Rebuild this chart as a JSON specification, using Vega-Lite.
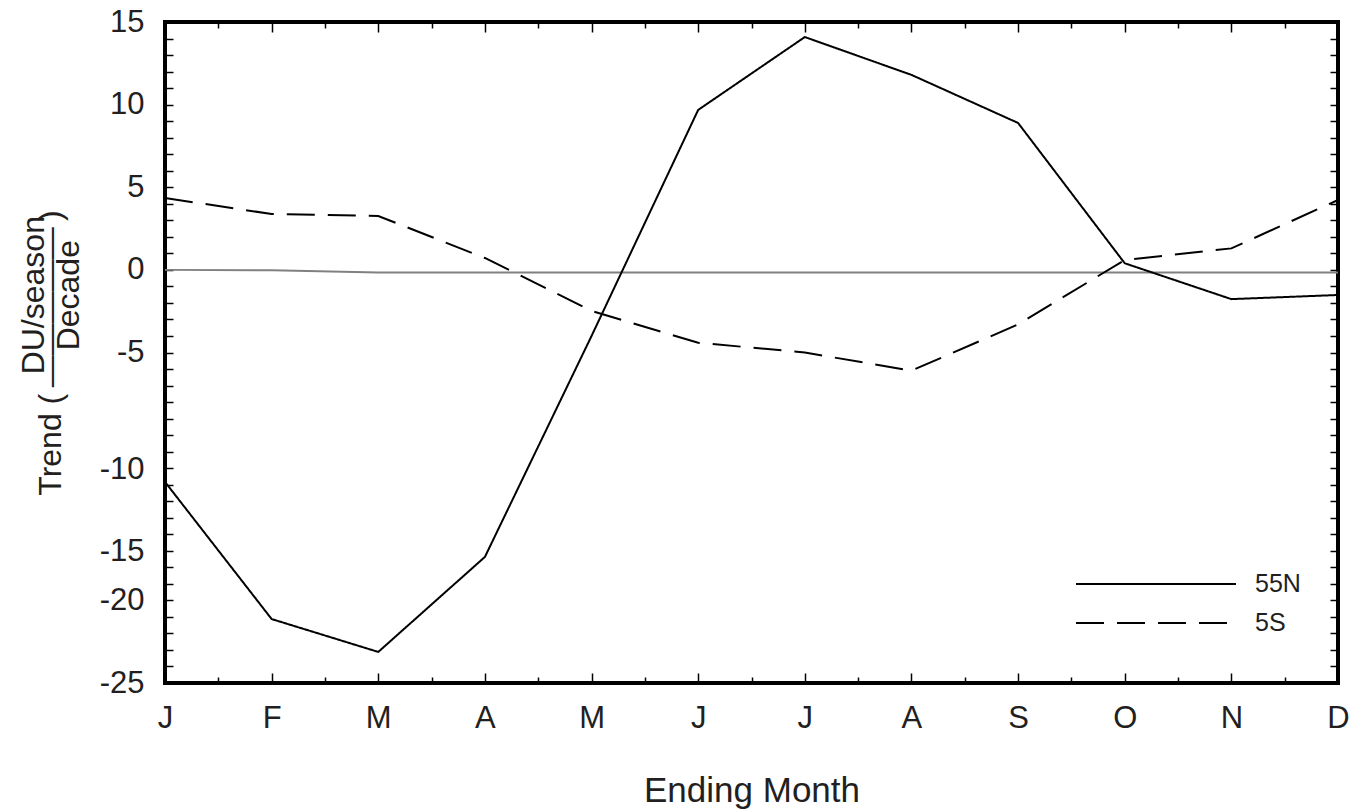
{
  "$schema": "https://vega.github.io/schema/vega-lite/v6.json",
  "width": 1173,
  "height": 661,
  "autosize": "none",
  "padding": {"left": 165, "top": 22, "right": 13, "bottom": 129},
  "background": "white",
  "config": {
    "view": {"stroke": "black", "strokeWidth": 4},
    "font": "Liberation Sans",
    "axis": {
      "domain": false,
      "tickColor": "black",
      "tickWidth": 1.5,
      "labelColor": "#231f20",
      "titleColor": "#231f20",
      "labelFont": "Liberation Sans",
      "titleFont": "Liberation Sans",
      "titleFontWeight": "normal",
      "grid": false
    },
    "legend": {
      "orient": "none",
      "legendX": 970,
      "legendY": 541,
      "symbolType": "M-4,0H4",
      "symbolSize": 1600,
      "symbolStrokeWidth": 2,
      "symbolStrokeColor": "black",
      "symbolFillColor": "transparent",
      "labelFontSize": 25,
      "labelFont": "Liberation Sans",
      "labelColor": "#231f20",
      "labelOffset": 78,
      "rowPadding": 5,
      "padding": 0
    }
  },
  "datasets": {
    "zero": [
      {"m": 0, "month": "Jan", "v": 0.0},
      {"m": 1, "month": "Feb", "v": -0.03},
      {"m": 2, "month": "Mar", "v": -0.16},
      {"m": 3, "month": "Apr", "v": -0.16},
      {"m": 4, "month": "May", "v": -0.16},
      {"m": 5, "month": "Jun", "v": -0.16},
      {"m": 6, "month": "Jul", "v": -0.16},
      {"m": 7, "month": "Aug", "v": -0.16},
      {"m": 8, "month": "Sep", "v": -0.16},
      {"m": 9, "month": "Oct", "v": -0.16},
      {"m": 10, "month": "Nov", "v": -0.16},
      {"m": 11, "month": "Dec", "v": -0.16}
    ],
    "trend": [
      {"m": 0, "month": "Jan", "series": "55N", "v": -12.83},
      {"m": 1, "month": "Feb", "series": "55N", "v": -21.13},
      {"m": 2, "month": "Mar", "series": "55N", "v": -23.12},
      {"m": 3, "month": "Apr", "series": "55N", "v": -17.37},
      {"m": 4, "month": "May", "series": "55N", "v": -4.0},
      {"m": 5, "month": "Jun", "series": "55N", "v": 9.68},
      {"m": 6, "month": "Jul", "series": "55N", "v": 14.09},
      {"m": 7, "month": "Aug", "series": "55N", "v": 11.8},
      {"m": 8, "month": "Sep", "series": "55N", "v": 8.89},
      {"m": 9, "month": "Oct", "series": "55N", "v": 0.4},
      {"m": 10, "month": "Nov", "series": "55N", "v": -1.77},
      {"m": 11, "month": "Dec", "series": "55N", "v": -1.52},
      {"m": 0, "month": "Jan", "series": "5S", "v": 4.35},
      {"m": 1, "month": "Feb", "series": "5S", "v": 3.38},
      {"m": 2, "month": "Mar", "series": "5S", "v": 3.26},
      {"m": 3, "month": "Apr", "series": "5S", "v": 0.72},
      {"m": 4, "month": "May", "series": "5S", "v": -2.48},
      {"m": 5, "month": "Jun", "series": "5S", "v": -4.41},
      {"m": 6, "month": "Jul", "series": "5S", "v": -5.0},
      {"m": 7, "month": "Aug", "series": "5S", "v": -6.1},
      {"m": 8, "month": "Sep", "series": "5S", "v": -3.3},
      {"m": 9, "month": "Oct", "series": "5S", "v": 0.6},
      {"m": 10, "month": "Nov", "series": "5S", "v": 1.3},
      {"m": 11, "month": "Dec", "series": "5S", "v": 4.23}
    ]
  },
  "layer": [
    {
      "data": {"name": "zero"},
      "mark": {"type": "line", "color": "#808080", "strokeWidth": 2},
      "encoding": {
        "x": {
          "field": "m", "type": "quantitative",
          "scale": {"domain": [0, 11], "nice": false, "zero": false},
          "axis": {
            "orient": "top",
            "title": null,
            "labels": false,
            "tickWidth": 1.5,
            "values": [0, 0.5, 1, 1.5, 2, 2.5, 3, 3.5, 4, 4.5, 5, 5.5, 6, 6.5, 7, 7.5, 8, 8.5, 9, 9.5, 10, 10.5, 11],
            "tickSize": {"condition": {"test": "datum.value % 1 === 0", "value": -10}, "value": -6}
          }
        },
        "y": {
          "field": "v", "type": "quantitative",
          "scale": {"domain": [-25, 15], "nice": false, "zero": false},
          "axis": {
            "orient": "right",
            "title": null,
            "labels": false,
            "tickWidth": 1.5,
            "values": [-25, -24, -23, -22, -21, -20, -19, -18, -17, -16, -15, -14, -13, -12, -11, -10, -9, -8, -7, -6, -5, -4, -3, -2, -1, 0, 1, 2, 3, 4, 5, 6, 7, 8, 9, 10, 11, 12, 13, 14, 15],
            "tickSize": -8
          }
        }
      }
    },
    {
      "data": {"name": "trend"},
      "mark": {"type": "line", "color": "black", "strokeWidth": 2, "strokeCap": "butt"},
      "encoding": {
        "x": {
          "field": "m", "type": "quantitative",
          "scale": {"domain": [0, 11], "nice": false, "zero": false},
          "axis": {
            "orient": "bottom",
            "title": "Ending Month",
            "titleFontSize": 35,
            "titlePadding": 40,
            "tickWidth": 1.5,
            "values": [0, 0.5, 1, 1.5, 2, 2.5, 3, 3.5, 4, 4.5, 5, 5.5, 6, 6.5, 7, 7.5, 8, 8.5, 9, 9.5, 10, 10.5, 11],
            "labelExpr": "datum.value % 1 === 0 ? ['J','F','M','A','M','J','J','A','S','O','N','D'][datum.value] : ''",
            "labelFontSize": 31,
            "labelPadding": 30,
            "labelFlush": false,
            "tickSize": {"condition": {"test": "datum.value % 1 === 0", "value": -10}, "value": -6}
          }
        },
        "y": {
          "field": "v", "type": "quantitative",
          "scale": {"domain": [-25, 15], "nice": false, "zero": false},
          "axis": {
            "orient": "left",
            "title": ["\u200b\u00a0\u00a0\u00a0\u00a0\u00a0\u00a0\u00a0\u00a0\u00a0\u00a0\u00a0\u00a0\u00a0DU/season", "Trend (\u2009\u2014\u2014\u2014\u2014\u2014\u2009)", "\u200b\u00a0\u00a0\u00a0\u00a0\u00a0\u00a0\u00a0\u00a0\u00a0\u00a0\u00a0\u00a0\u00a0Decade"],
            "titleFontSize": 32,
            "titleLineHeight": 17.5,
            "titlePadding": 14,
            "tickWidth": 1.5,
            "values": [-25, -24, -23, -22, -21, -20, -19, -18, -17, -16, -15, -14, -13, -12, -11, -10, -9, -8, -7, -6, -5, -4, -3, -2, -1, 0, 1, 2, 3, 4, 5, 6, 7, 8, 9, 10, 11, 12, 13, 14, 15],
            "labelExpr": "datum.value % 5 === 0 ? '' + datum.value : ''",
            "labelFontSize": 31,
            "labelPadding": 29,
            "labelFlush": false,
            "labelOffset": {"condition": {"test": "datum.value === -10 || datum.value === -15", "value": 34}, "value": 0},
            "tickSize": -8
          }
        },
        "strokeDash": {
          "field": "series", "type": "nominal",
          "scale": {"domain": ["55N", "5S"], "range": [[1, 0], [28, 13]]},
          "legend": {"title": null}
        }
      }
    }
  ],
  "resolve": {"axis": {"x": "independent", "y": "independent"}}
}
